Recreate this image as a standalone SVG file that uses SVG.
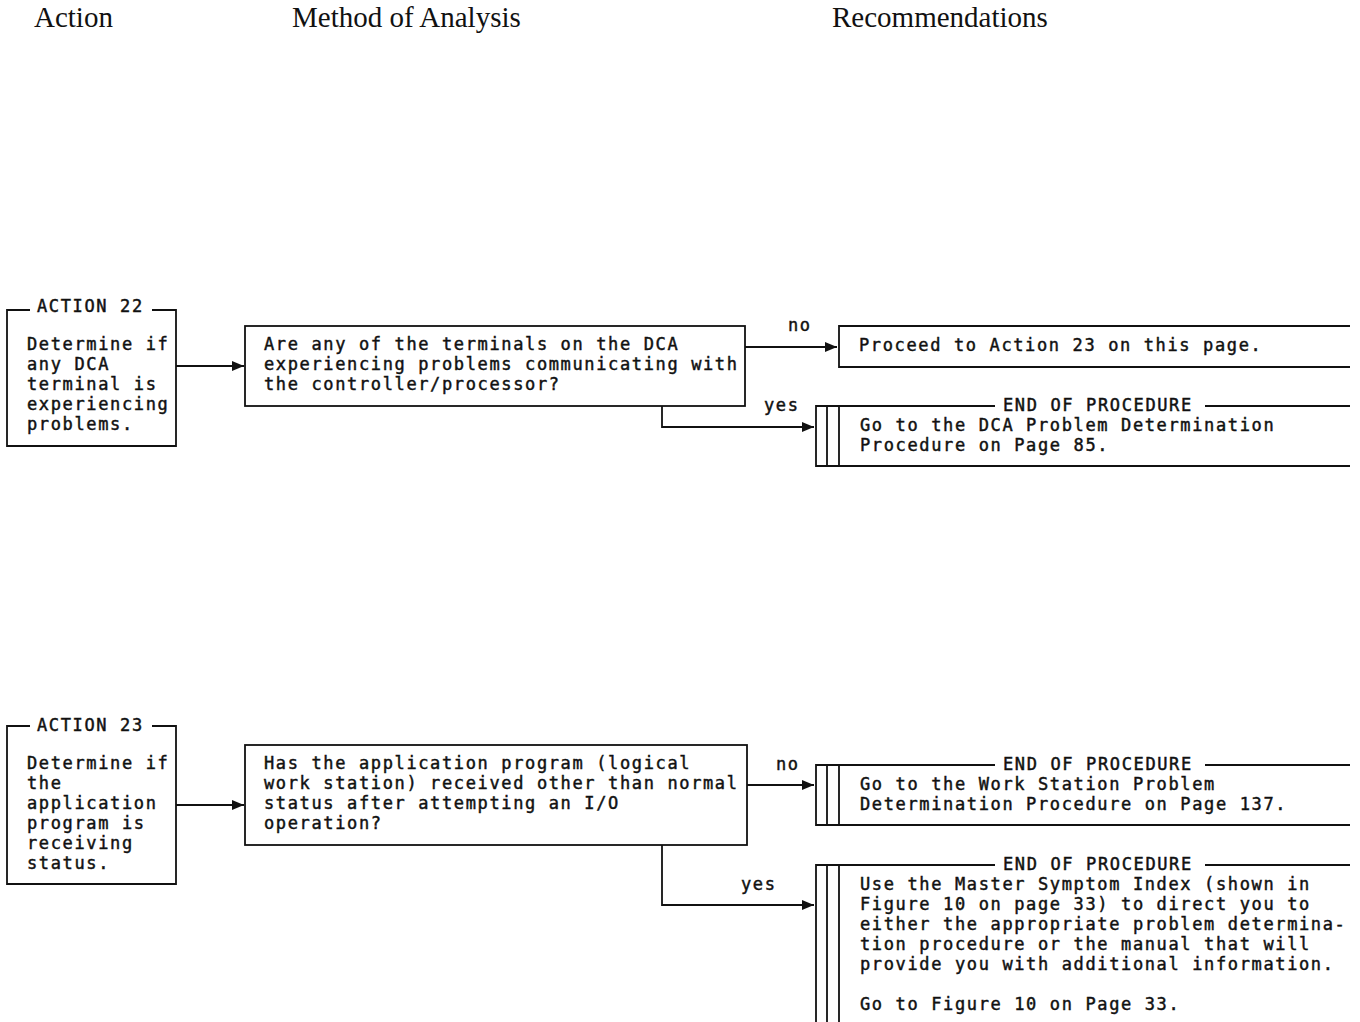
<svg xmlns="http://www.w3.org/2000/svg" width="1360" height="1022" viewBox="0 0 1360 1022">
<style>
.hd{font-family:"Liberation Serif","Times New Roman",serif;font-size:29px;fill:#111}
.t{font-family:"DejaVu Sans Mono","Liberation Mono",monospace;font-size:17px;letter-spacing:1.63px;fill:#111;stroke:#111;stroke-width:0.45px}
.ln{fill:none;stroke:#111;stroke-width:1.8}
</style>
<defs>
<marker id="ah" viewBox="0 0 12 10" refX="12" refY="5" markerWidth="12" markerHeight="10" markerUnits="userSpaceOnUse" orient="auto">
<path d="M0,0 L12,5 L0,10 Z" fill="#111"/>
</marker>
</defs>
<rect width="1360" height="1022" fill="#fff"/>
<g id="headers">
<text class="hd" x="34" y="27">Action</text>
<text class="hd" x="292" y="27">Method of Analysis</text>
<text class="hd" x="832" y="27">Recommendations</text>
</g>
<g id="action22">
<path class="ln" d="M30,310 H7 V446 H176 V310 H152"/>
<text class="t" x="37" y="312">ACTION 22</text>
<text class="t" x="27" y="350">Determine if</text>
<text class="t" x="27" y="370">any DCA</text>
<text class="t" x="27" y="390">terminal is</text>
<text class="t" x="27" y="410">experiencing</text>
<text class="t" x="27" y="430">problems.</text>
</g>
<g id="question22">
<rect class="ln" x="245" y="326" width="500" height="80"/>
<text class="t" x="264" y="350">Are any of the terminals on the DCA</text>
<text class="t" x="264" y="370">experiencing problems communicating with</text>
<text class="t" x="264" y="390">the controller/processor?</text>
</g>
<g id="proceed23">
<path class="ln" d="M1350,326 H839 V367 H1350"/>
<text class="t" x="859" y="351">Proceed to Action 23 on this page.</text>
</g>
<g id="eop1">
<path class="ln" d="M995,406 H816 V466 H1350 M1205,406 H1350 M827,406 V466 M839,406 V466"/>
<text class="t" x="1003" y="411">END OF PROCEDURE</text>
<text class="t" x="860" y="431">Go to the DCA Problem Determination</text>
<text class="t" x="860" y="451">Procedure on Page 85.</text>
</g>
<g id="action23">
<path class="ln" d="M30,726 H7 V884 H176 V726 H152"/>
<text class="t" x="37" y="731">ACTION 23</text>
<text class="t" x="27" y="769">Determine if</text>
<text class="t" x="27" y="789">the</text>
<text class="t" x="27" y="809">application</text>
<text class="t" x="27" y="829">program is</text>
<text class="t" x="27" y="849">receiving</text>
<text class="t" x="27" y="869">status.</text>
</g>
<g id="question23">
<rect class="ln" x="245" y="745" width="502" height="100"/>
<text class="t" x="264" y="769">Has the application program (logical</text>
<text class="t" x="264" y="789">work station) received other than normal</text>
<text class="t" x="264" y="809">status after attempting an I/O</text>
<text class="t" x="264" y="829">operation?</text>
</g>
<g id="eop2">
<path class="ln" d="M995,765 H816 V825 H1350 M1205,765 H1350 M827,765 V825 M839,765 V825"/>
<text class="t" x="1003" y="770">END OF PROCEDURE</text>
<text class="t" x="860" y="790">Go to the Work Station Problem</text>
<text class="t" x="860" y="810">Determination Procedure on Page 137.</text>
</g>
<g id="eop3">
<path class="ln" d="M995,865 H816 V1022 M1205,865 H1350 M827,865 V1022 M839,865 V1022"/>
<text class="t" x="1003" y="870">END OF PROCEDURE</text>
<text class="t" x="860" y="890">Use the Master Symptom Index (shown in</text>
<text class="t" x="860" y="910">Figure 10 on page 33) to direct you to</text>
<text class="t" x="860" y="930">either the appropriate problem determina-</text>
<text class="t" x="860" y="950">tion procedure or the manual that will</text>
<text class="t" x="860" y="970">provide you with additional information.</text>
<text class="t" x="860" y="1010">Go to Figure 10 on Page 33.</text>
</g>
<g id="connectors">
<path class="ln" d="M176,366 H244" marker-end="url(#ah)"/>
<path class="ln" d="M745,347 H837" marker-end="url(#ah)"/>
<path class="ln" d="M662,406 V427 H814" marker-end="url(#ah)"/>
<path class="ln" d="M176,805 H244" marker-end="url(#ah)"/>
<path class="ln" d="M747,785 H814" marker-end="url(#ah)"/>
<path class="ln" d="M662,845 V905 H814" marker-end="url(#ah)"/>
<text class="t" x="788" y="331">no</text>
<text class="t" x="764" y="411">yes</text>
<text class="t" x="776" y="770">no</text>
<text class="t" x="741" y="890">yes</text>
</g>
</svg>
